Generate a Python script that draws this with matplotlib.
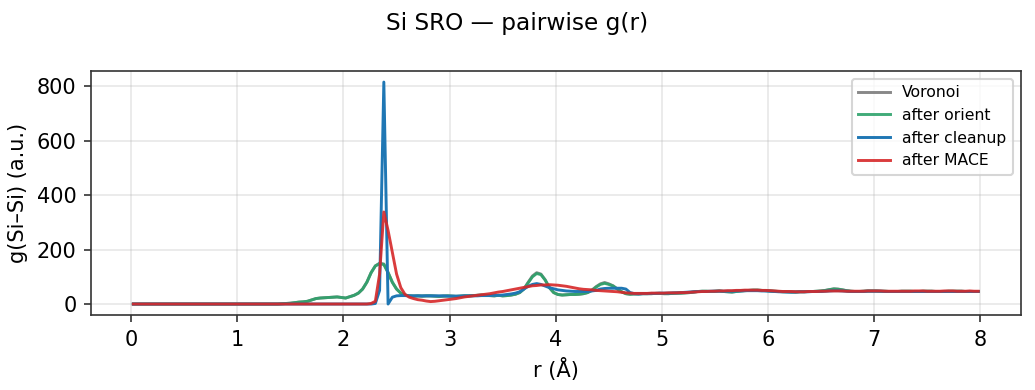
import matplotlib
matplotlib.use('Agg')
import matplotlib.pyplot as plt
import numpy as np

# g(r) histograms, bin width 0.04 A, centres 0.02 ... 7.98 (rows of 10 bins = 0.4 A)
voronoi = [0]*10 + [0]*10 + [0]*10 + \
    [0, 0, 0, 0, 0, 1, 2, 3, 5, 7] + \
    [8, 10, 15, 20, 22, 23, 24, 25, 26, 24] + \
    [22, 27, 32, 40, 55, 80, 115, 140, 150, 147] + \
    [116, 80, 55, 40, 33, 30, 29, 30, 29, 30] + \
    [30, 29, 28, 29, 30, 29, 28, 29, 30, 30] + \
    [31, 32, 33, 32, 31, 30, 32, 30, 31, 33] + \
    [36, 42, 56, 80, 103, 115, 110, 89, 60, 42] + \
    [35, 33, 34, 35, 35, 36, 38, 42, 51, 64] + \
    [74, 79, 74, 67, 55, 45, 38, 36, 37, 37] + \
    [38, 38, 38, 39, 39, 38, 38, 39, 40, 40] + \
    [41, 42, 44, 46, 47, 47, 46, 47, 48, 46] + \
    [45, 44, 46, 48, 49, 50, 51, 51, 50, 49] + \
    [48, 47, 46, 45, 45, 44, 44, 45, 45, 46] + \
    [46, 47, 48, 50, 53, 56, 55, 52, 49, 47] + \
    [46, 46, 47, 48, 48, 48, 47, 47, 46, 46] + \
    [46, 47, 47, 47, 46, 46, 47, 47, 47, 46] + \
    [46, 46, 47, 47, 47, 47, 46, 46, 46, 46]

orient = [0]*10 + [0]*10 + [0]*10 + \
    [0, 0, 0, 0, 0, 1, 2, 3, 5, 7] + \
    [8, 10, 15, 20, 22, 23, 24, 25, 26, 24] + \
    [22, 27, 32, 40, 55, 80, 115, 140, 148, 145] + \
    [115, 80, 55, 40, 33, 30, 29, 30, 29, 30] + \
    [30, 29, 28, 29, 30, 29, 28, 29, 30, 30] + \
    [31, 32, 33, 32, 31, 30, 32, 30, 31, 33] + \
    [36, 42, 55, 78, 100, 112, 108, 88, 60, 42] + \
    [35, 33, 34, 35, 35, 36, 38, 42, 50, 62] + \
    [72, 76, 72, 66, 55, 45, 38, 36, 37, 37] + \
    [38, 38, 38, 39, 39, 38, 38, 39, 40, 40] + \
    [41, 42, 44, 46, 47, 47, 46, 47, 48, 46] + \
    [45, 44, 46, 48, 49, 50, 51, 51, 50, 49] + \
    [48, 47, 46, 45, 45, 44, 44, 45, 45, 46] + \
    [46, 47, 48, 50, 53, 55, 54, 52, 49, 47] + \
    [46, 46, 47, 48, 48, 48, 47, 47, 46, 46] + \
    [46, 47, 47, 47, 46, 46, 47, 47, 47, 46] + \
    [46, 46, 47, 47, 47, 47, 46, 46, 46, 46]

cleanup = [0]*10 + [0]*10 + [0]*10 + [0]*10 + [0]*10 + \
    [0, 0, 0, 0, 0, 0, 0, 2, 50, 815] + \
    [0, 25, 30, 31, 31, 30, 30, 30, 30, 30] + \
    [30, 30, 30, 30, 29, 29, 29, 29, 30, 30] + \
    [30, 30, 31, 31, 31, 32, 32, 33, 35, 37] + \
    [40, 45, 55, 65, 72, 75, 72, 66, 60, 56] + \
    [52, 50, 48, 47, 46, 46, 46, 46, 48, 50] + \
    [55, 57, 58, 58, 58, 58, 55, 42, 38, 37] + \
    [38, 38, 39, 39, 40, 40, 40, 41, 41, 42] + \
    [43, 44, 45, 46, 46, 46, 47, 47, 47, 47] + \
    [47, 47, 48, 48, 49, 49, 49, 49, 48, 48] + \
    [47, 46, 45, 45, 44, 44, 44, 45, 45, 45] + \
    [46, 46, 46, 47, 48, 49, 49, 48, 47, 46] + \
    [46, 46, 46, 47, 47, 47, 47, 46, 46, 46] + \
    [46, 46, 46, 46, 46, 46, 46, 46, 46, 46] + \
    [46, 46, 46, 46, 46, 46, 46, 46, 46, 46]

mace = [0]*10 + [0]*10 + [0]*10 + [0]*10 + [0]*10 + \
    [0, 0, 0, 0, 0, 0, 2, 10, 110, 338] + \
    [270, 190, 110, 60, 35, 25, 20, 16, 14, 11] + \
    [9, 10, 12, 14, 16, 18, 20, 23, 26, 28] + \
    [30, 32, 34, 36, 38, 41, 44, 46, 49, 52] + \
    [55, 58, 61, 64, 67, 68, 70, 70, 71, 70] + \
    [69, 67, 65, 62, 59, 56, 54, 53, 52, 50] + \
    [49, 48, 47, 46, 45, 43, 41, 40, 39, 39] + \
    [39, 39, 40, 40, 40, 40, 41, 41, 41, 42] + \
    [42, 43, 44, 45, 46, 46, 47, 47, 48, 48] + \
    [49, 49, 50, 50, 51, 51, 51, 51, 50, 50] + \
    [49, 48, 47, 46, 46, 46, 45, 45, 45, 46] + \
    [46, 46, 47, 47, 48, 48, 48, 48, 47, 47] + \
    [47, 47, 47, 48, 48, 48, 48, 47, 47, 47] + \
    [47, 47, 47, 47, 48, 48, 48, 47, 47, 47] + \
    [47, 48, 48, 48, 47, 47, 47, 48, 47, 47]

dr = 0.04
r = dr/2 + dr*np.arange(len(orient))

fig, ax = plt.subplots(figsize=(6.9, 2.6), dpi=150)
ax.plot(r, voronoi, color='#888888', lw=1.4, label='Voronoi')
ax.plot(r, orient, color='#2ca26a', lw=1.4, alpha=0.9, label='after orient')
ax.plot(r, cleanup, color='#1f77b4', lw=1.4, label='after cleanup')
ax.plot(r, mace, color='#d62728', lw=1.4, alpha=0.9, label='after MACE')

ax.grid(alpha=0.3)
for sp in ax.spines.values():
    sp.set_color('#333333')
ax.tick_params(color='#333333')
ax.set_xlabel('r (Å)')
ax.set_ylabel('g(Si–Si) (a.u.)')
ax.legend(loc='upper right', fontsize=7.5)
fig.suptitle('Si SRO — pairwise g(r)', fontsize=11.2, y=0.968)
fig.subplots_adjust(left=0.088, right=0.986, top=0.818, bottom=0.192)
plt.savefig('out.png', dpi=150)
plt.close()
